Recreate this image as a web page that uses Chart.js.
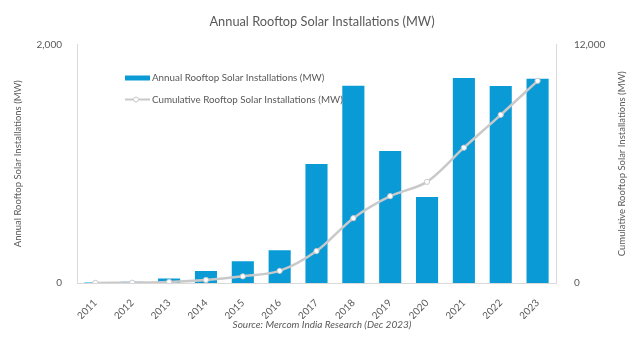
<!DOCTYPE html>
<html>
<head>
<meta charset="utf-8">
<script src="https://cdn.jsdelivr.net/npm/chart.js@4/dist/chart.umd.min.js"></script>
<style>
  html, body { margin: 0; padding: 0; background: #fff; }
  #wrap { width: 640px; height: 337px; }
</style>
</head>
<body>
<div id="wrap"><canvas id="solarChart"></canvas></div>
<script>
// data tahunan dan kumulatif (MW)
const years = ['2011', '2012', '2013', '2014', '2015', '2016', '2017', '2018', '2019', '2020', '2021', '2022', '2023'];
const annualMW = [5, 10, 37, 101, 182, 275, 997, 1653, 1107, 720, 1718, 1650, 1712];
const cumulativeMW = [5, 15, 52, 153, 335, 610, 1607, 3260, 4367, 5087, 6805, 8455, 10167];
const leftTicks = [0, 2000];
const rightTicks = [0, 12000];

const FONT = 'Lato, "Open Sans", sans-serif';
const GREY = '#595959';
const AXIS = '#d9d9d9';

// legend kecil di dalam area plot (batang dulu, lalu garis)
const insideLegend = {
    id: 'insideLegend',
    afterDraw(chart, args, opts) {
        const ctx = chart.ctx;
        ctx.save();
        ctx.font = opts.size + 'px ' + FONT;
        ctx.textBaseline = 'middle';
        const items = chart.data.datasets.slice().sort((a, b) => b.order - a.order);
        items.forEach((ds, i) => {
            const y = opts.y + i * opts.gap;
            if (ds.type === 'bar') {
                ctx.fillStyle = ds.backgroundColor;
                ctx.fillRect(opts.x, y - 2.5, 25, 5);
            } else {
                ctx.strokeStyle = ds.borderColor;
                ctx.lineWidth = 2;
                ctx.beginPath();
                ctx.moveTo(opts.x, y);
                ctx.lineTo(opts.x + 25, y);
                ctx.stroke();
                ctx.beginPath();
                ctx.arc(opts.x + 11, y, 2.5, 0, Math.PI * 2);
                ctx.fillStyle = '#fff';
                ctx.fill();
                ctx.lineWidth = 1;
                ctx.stroke();
            }
            ctx.fillStyle = GREY;
            ctx.fillText(ds.label, opts.x + 27, y);
        });
        ctx.restore();
    }
};

// judul sumbu kanan, dibaca dari bawah ke atas seperti sumbu kiri
const rightAxisTitle = {
    id: 'rightAxisTitle',
    afterDraw(chart, args, opts) {
        const ctx = chart.ctx;
        const area = chart.chartArea;
        ctx.save();
        ctx.translate(opts.x, (area.top + area.bottom) / 2);
        ctx.rotate(-Math.PI / 2);
        ctx.font = opts.size + 'px ' + FONT;
        ctx.fillStyle = GREY;
        ctx.textAlign = 'center';
        ctx.textBaseline = 'middle';
        ctx.fillText(opts.text, 0, 0);
        ctx.restore();
    }
};

const ctx = document.getElementById('solarChart').getContext('2d');
const chart = new Chart(ctx, {
    data: {
        labels: years,
        datasets: [{
            type: 'line',
            label: 'Cumulative Rooftop Solar Installations (MW)',
            data: cumulativeMW,
            yAxisID: 'y1',
            borderColor: '#c9c9c9',
            borderWidth: 2.5,
            tension: 0.3,
            pointRadius: 2.6,
            pointBackgroundColor: '#fff',
            pointBorderColor: '#c9c9c9',
            pointBorderWidth: 1,
            order: 0
        }, {
            type: 'bar',
            label: 'Annual Rooftop Solar Installations (MW)',
            data: annualMW,
            yAxisID: 'y',
            backgroundColor: '#0a9bd7',
            categoryPercentage: 1,
            barPercentage: 0.6,
            order: 1
        }]
    },
    options: {
        responsive: true,
        maintainAspectRatio: false,
        animation: false,
        layout: { padding: { left: 12, right: 8, top: 0, bottom: 0 } },
        scales: {
            x: {
                grid: { display: false },
                border: { color: AXIS },
                ticks: {
                    color: GREY,
                    font: { family: FONT, size: 10 },
                    maxRotation: 45,
                    minRotation: 45,
                    padding: 6
                },
                afterFit: s => { s.height = 36; }
            },
            y: {
                position: 'left',
                min: 0,
                max: 2000,
                grid: { display: false },
                border: { color: AXIS },
                afterBuildTicks: s => { s.ticks = leftTicks.map(v => ({ value: v })); },
                ticks: {
                    color: GREY,
                    font: { family: FONT, size: 10 },
                    padding: 7,
                    callback: v => v.toLocaleString('en-US')
                },
                title: {
                    display: true,
                    text: 'Annual Rooftop Solar Installations (MW)',
                    color: GREY,
                    font: { family: FONT, size: 9.5 },
                    padding: 0
                },
                afterFit: s => { s.width = 65; }
            },
            y1: {
                position: 'right',
                min: 0,
                max: 12000,
                grid: { display: false },
                border: { color: AXIS },
                afterBuildTicks: s => { s.ticks = rightTicks.map(v => ({ value: v })); },
                ticks: {
                    color: GREY,
                    font: { family: FONT, size: 10 },
                    padding: 10,
                    callback: v => v.toLocaleString('en-US')
                },
                afterFit: s => { s.width = 76; }
            }
        },
        plugins: {
            legend: { display: false },
            tooltip: { enabled: false },
            title: {
                display: true,
                text: 'Annual Rooftop Solar Installations (MW)',
                color: GREY,
                font: { family: FONT, size: 12.8, weight: 'normal' },
                padding: { top: 14, bottom: 15 }
            },
            subtitle: {
                display: true,
                position: 'bottom',
                text: 'Source: Mercom India Research (Dec 2023)',
                color: GREY,
                font: { family: FONT, size: 10, style: 'italic' },
                padding: { top: 0, bottom: 6 }
            },
            insideLegend: { x: 125, y: 78, gap: 21.5, size: 9.8 },
            rightAxisTitle: { x: 622, size: 9.5, text: 'Cumulative Rooftop Solar Installations (MW)' }
        }
    },
    plugins: [insideLegend, rightAxisTitle]
});
</script>
</body>
</html>
